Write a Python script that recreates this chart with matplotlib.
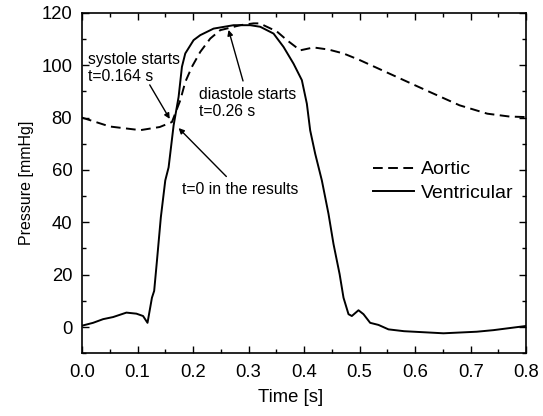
import matplotlib
matplotlib.use("Agg")
import matplotlib.pyplot as plt
from matplotlib.ticker import MultipleLocator

plt.rcParams.update({
    "font.family": ["Liberation Sans", "DejaVu Sans"],
    "font.size": 13.3,
    "xtick.direction": "in",
    "ytick.direction": "in",
    "xtick.top": True,
    "ytick.right": True,
})

# aortic pressure (dashed)
t_aortic = [0.0, 0.05, 0.105, 0.14, 0.162, 0.177, 0.186, 0.198, 0.213, 0.231,
            0.249, 0.285, 0.309, 0.32, 0.351, 0.369, 0.393, 0.417, 0.444, 0.471,
            0.5, 0.56, 0.62, 0.68, 0.73, 0.77, 0.8]
p_aortic = [80.0, 76.6, 75.2, 76.4, 78.3, 86.6, 93.6, 99.4, 105.1, 110.2,
            113.4, 115.3, 116.0, 116.0, 112.9, 109.6, 105.7, 106.8, 106.0, 104.5,
            102.0, 96.2, 90.4, 84.7, 81.5, 80.4, 80.2]

# ventricular pressure (solid)
t_vent = [0.0, 0.02, 0.038, 0.056, 0.08, 0.098, 0.11, 0.118, 0.126, 0.13,
          0.135, 0.142, 0.15, 0.156, 0.165, 0.174, 0.18, 0.186, 0.201, 0.213,
          0.237, 0.273, 0.303, 0.321, 0.345, 0.363, 0.381, 0.396, 0.405, 0.411,
          0.42, 0.432, 0.444, 0.453, 0.464, 0.471, 0.48, 0.486, 0.498, 0.507,
          0.519, 0.534, 0.552, 0.58, 0.651, 0.711, 0.741, 0.8]
p_vent = [0.5, 1.6, 3.0, 3.8, 5.5, 5.1, 4.2, 1.6, 11.2, 13.8,
          25.3, 41.9, 56.0, 61.0, 77.0, 87.9, 99.4, 104.5, 109.6, 111.5,
          114.0, 115.3, 115.3, 114.7, 112.1, 107.0, 100.6, 94.3, 85.3, 75.1,
          66.2, 56.0, 43.2, 31.7, 20.2, 11.2, 4.9, 4.2, 6.4, 4.9,
          1.6, 0.8, -0.9, -1.6, -2.4, -1.8, -1.2, 0.4]

fig = plt.figure(figsize=(5.43, 4.16), dpi=100)
ax = fig.add_axes([0.151, 0.151, 0.818, 0.818])

ax.plot(t_aortic, p_aortic, color="black", linestyle=(0, (5, 2.8)), linewidth=1.4,
        label="Aortic")
ax.plot(t_vent, p_vent, color="black", linewidth=1.4, label="Ventricular")

ax.set_xlim(0, 0.8)
ax.set_ylim(-10, 120)
ax.xaxis.set_major_locator(MultipleLocator(0.1))
ax.xaxis.set_minor_locator(MultipleLocator(0.05))
ax.yaxis.set_major_locator(MultipleLocator(20))
ax.yaxis.set_minor_locator(MultipleLocator(10))
ax.tick_params(which="major", length=5, width=1)
ax.tick_params(which="minor", length=3, width=1)
ax.tick_params(axis="x", which="major", pad=8)
ax.tick_params(axis="y", which="major", pad=7)
ax.xaxis.set_major_formatter(plt.FormatStrFormatter("%.1f"))
ax.set_xlabel("Time [s]", labelpad=7)
ax.xaxis.set_label_coords(0.47, -0.105, transform=ax.transAxes)
ax.set_ylabel("Pressure [mmHg]", fontsize=11.5, labelpad=5)
for s in ax.spines.values():
    s.set_linewidth(1.2)

arrow = dict(arrowstyle="-|>", color="black", lw=1, mutation_scale=8,
             shrinkA=0, shrinkB=0)
ax.text(0.01, 99, "systole starts\nt=0.164 s", fontsize=11.3, va="center", ha="left")
ax.annotate("", xy=(0.158, 79.5), xytext=(0.122, 92.5), arrowprops=arrow)
ax.text(0.21, 85.5, "diastole starts\nt=0.26 s", fontsize=11.3, va="center", ha="left")
ax.annotate("", xy=(0.264, 113.5), xytext=(0.29, 94), arrowprops=arrow)
ax.text(0.18, 52.7, "t=0 in the results", fontsize=11.3, va="center", ha="left")
ax.annotate("", xy=(0.174, 76), xytext=(0.26, 57.5), arrowprops=arrow)

ax.legend(loc="upper right", bbox_to_anchor=(1.01, 0.617), frameon=False,
          fontsize=14, handlelength=2.1, handletextpad=0.35, labelspacing=0.3)

fig.savefig("out.png", dpi=100)
